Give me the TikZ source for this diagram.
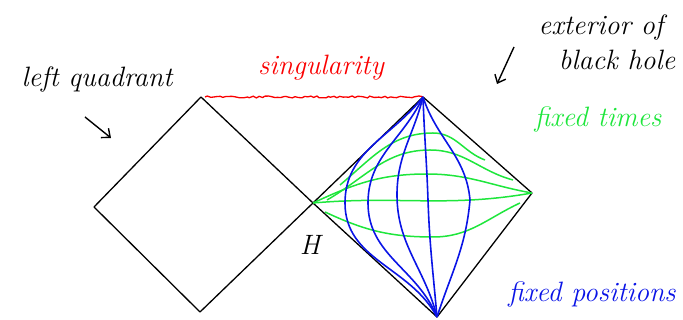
\documentclass[tikz,border=0pt]{standalone}
\usetikzlibrary{arrows,arrows.meta,decorations.pathmorphing}
\definecolor{slicegreen}{RGB}{30,230,60}
\definecolor{lineblue}{RGB}{10,20,230}
\definecolor{singred}{RGB}{250,0,0}

\begin{document}
\begin{tikzpicture}[
  x=1pt,y=1pt,
  note/.style={font=\fontsize{28}{30}\selectfont\itshape,inner sep=0pt},
  edge/.style={line width=1.3pt,line join=round},
  slice/.style={slicegreen,line width=1.5pt},
  worldline/.style={lineblue,line width=1.6pt},
  pointer/.style={line width=1.4pt,-{Straight Barb[length=7pt,width=12pt]}}
]
  \useasboundingbox (0,0) rectangle (683,320);

  % corners of the two quadrants
  \coordinate (lt) at (201,223);
  \coordinate (ll) at (94,113);
  \coordinate (lb) at (200,8);
  \coordinate (h)  at (313,117);
  \coordinate (rt) at (423,223);
  \coordinate (rr) at (532,127);
  \coordinate (rb) at (437,3);
  \coordinate (sl) at (205,223);

  \draw[edge] (lt) -- (ll) -- (lb) -- (h) -- cycle;
  \draw[edge] (rt) -- (rr) -- (rb) -- (h) -- cycle;

  % singularity
  \draw[singred,line width=1.3pt,decorate,
    decoration={random steps,segment length=3pt,amplitude=1pt}] (sl) -- (rt);

  % fixed times
  \draw[slice] (340,135) to[out=40,in=180] (433,187) to[out=0,in=160] (485,160);
  \draw[slice] (327,120) to[out=30,in=180] (430,170) to[out=0,in=165] (513,140);
  \draw[slice] (h) to[out=25,in=180] (427,146) to[out=0,in=170] (rr);
  \draw[slice] (h) to[out=5,in=190] (rr);
  \draw[slice] (325,108) to[out=-25,in=180] (433,83) to[out=0,in=-155] (520,117);

  % fixed positions
  \draw[worldline] (rt) to[out=-128,in=90] (345,117) to[out=-90,in=118] (rb);
  \draw[worldline] (rt) to[out=-115,in=90] (368,117) to[out=-90,in=112] (rb);
  \draw[worldline] (rt) to[out=-104,in=90] (397,125) to[out=-90,in=104] (rb);
  \draw[worldline] (rt) to[out=-88,in=92] (428,120) to[out=-88,in=95] (rb);
  \draw[worldline] (rt) to[out=-72,in=95] (470,120) to[out=-95,in=72] (rb);

  % labels
  \node[note] (lq) at (97,240) {left quadrant};
  \node[note,singred] (sg) at (321,252) {singularity};
  \node[note] (ex) at (601,292) {exterior of};
  \node[note] (bh) at (617,260) {black hole};
  \node[note,slicegreen] (ft) at (598,200) {fixed times};
  \node[note,lineblue] (fp) at (592,25) {fixed positions};
  \node[note] (hl) at (310,75) {H};

  % pointers
  \coordinate (pa) at (85,203);
  \coordinate (pb) at (111,182);
  \coordinate (pc) at (514,273);
  \coordinate (pd) at (497,236);
  \draw[pointer] (pa) -- (pb);
  \draw[pointer] (pc) -- (pd);
\end{tikzpicture}
\end{document}
